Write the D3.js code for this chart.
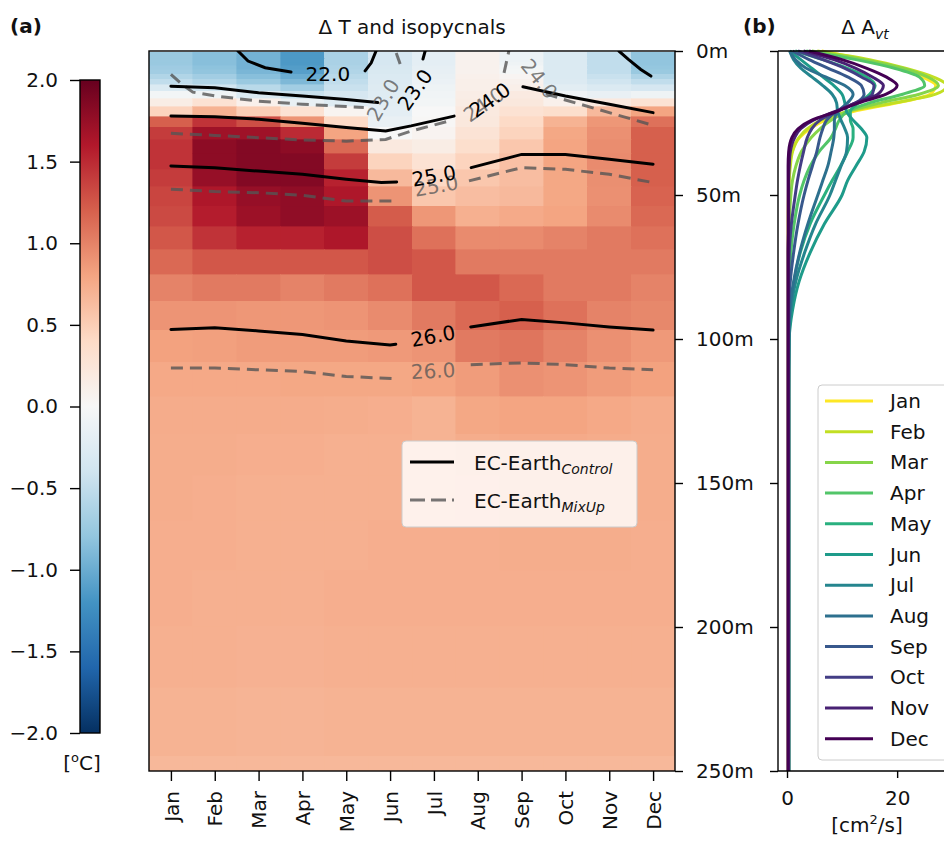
<!DOCTYPE html>
<html><head><meta charset="utf-8">
<script src="https://cdn.jsdelivr.net/npm/d3@7"></script>
<style>body{margin:0;background:#fff;} svg{display:block;font-family:"DejaVu Sans",sans-serif;}</style>
</head><body><svg id="c" width="944" height="848"></svg>
<script>
// ---------------- DATA ----------------
const months = ["Jan","Feb","Mar","Apr","May","Jun","Jul","Aug","Sep","Oct","Nov","Dec"];
const depthTicks = [0,50,100,150,200,250];
const cbarTicks = [-2,-1.5,-1,-0.5,0,0.5,1,1.5,2];
const avtTicks = [0,20];
// model level edges (m)
const depthEdges = [0.5,1.56,2.67,3.86,5.14,6.54,8.09,9.82,11.77,13.99,16.53,19.43,22.76,26.56,30.87,35.74,41.18,47.21,53.85,61.11,69.02,77.61,86.93,97.04,108.03,120.0,133.08,147.41,163.16,180.55,199.79,221.14,244.89,271.36];
// Delta T per level (rows) and month (columns Jan..Dec)
const deltaT = [
 [-0.75,-0.85,-0.95,-1.15,-0.65,-0.35,-0.2,0.08,-0.12,-0.3,-0.5,-0.8],
 [-0.75,-0.85,-0.95,-1.15,-0.65,-0.35,-0.2,0.08,-0.12,-0.3,-0.5,-0.8],
 [-0.75,-0.85,-0.95,-1.15,-0.65,-0.35,-0.2,0.08,-0.12,-0.3,-0.5,-0.8],
 [-0.75,-0.85,-0.95,-1.15,-0.65,-0.35,-0.2,0.08,-0.1,-0.3,-0.5,-0.8],
 [-0.72,-0.82,-0.95,-1.12,-0.62,-0.33,-0.18,0.08,-0.05,-0.3,-0.5,-0.78],
 [-0.7,-0.8,-0.92,-1.1,-0.6,-0.32,-0.17,0.08,-0.03,-0.3,-0.5,-0.75],
 [-0.6,-0.7,-0.85,-1.0,-0.55,-0.3,-0.15,0.1,0.04,-0.3,-0.45,-0.62],
 [-0.5,-0.6,-0.75,-0.9,-0.5,-0.28,-0.13,0.12,0.08,-0.28,-0.4,-0.5],
 [-0.3,-0.4,-0.55,-0.7,-0.45,-0.26,-0.1,0.12,0.12,-0.22,-0.3,-0.35],
 [-0.05,-0.1,-0.3,-0.45,-0.35,-0.25,-0.07,0.14,0.18,-0.08,-0.15,-0.1],
 [0.15,0.3,0.1,-0.15,-0.25,-0.22,-0.05,0.16,0.22,0.1,0.2,0.3],
 [0.45,0.7,0.5,0.3,0.05,-0.2,0.0,0.2,0.3,0.35,0.65,0.8],
 [1.2,1.45,1.3,0.9,0.4,-0.15,0.02,0.22,0.4,0.7,0.88,1.1],
 [1.4,1.7,1.7,1.5,0.8,0.0,0.06,0.28,0.45,0.78,0.92,1.2],
 [1.45,1.8,1.85,1.8,1.15,0.2,0.15,0.35,0.55,0.8,0.94,1.2],
 [1.45,1.8,1.85,1.85,1.4,0.45,0.3,0.45,0.6,0.8,0.95,1.2],
 [1.4,1.75,1.85,1.85,1.55,0.65,0.42,0.55,0.62,0.78,0.93,1.2],
 [1.35,1.62,1.75,1.78,1.62,0.9,0.55,0.62,0.65,0.78,0.92,1.18],
 [1.32,1.58,1.72,1.78,1.72,1.22,0.88,0.72,0.76,0.8,0.95,1.15],
 [1.25,1.45,1.55,1.55,1.62,1.3,1.1,0.95,0.95,1.0,1.05,1.1],
 [1.15,1.25,1.25,1.25,1.25,1.3,1.25,1.05,1.05,1.05,1.05,1.05],
 [1.0,1.05,1.05,1.0,1.05,1.1,1.25,1.25,1.15,1.05,1.05,1.0],
 [0.9,0.9,0.88,0.88,0.9,0.95,1.05,1.15,1.2,1.1,1.0,0.97],
 [0.82,0.83,0.85,0.85,0.85,0.87,0.9,1.05,1.08,1.0,0.92,0.87],
 [0.77,0.77,0.77,0.78,0.78,0.78,0.8,0.85,0.92,0.9,0.85,0.82],
 [0.75,0.75,0.75,0.75,0.74,0.73,0.7,0.78,0.8,0.8,0.77,0.75],
 [0.74,0.74,0.73,0.73,0.72,0.72,0.7,0.74,0.76,0.76,0.75,0.74],
 [0.74,0.73,0.72,0.72,0.72,0.72,0.72,0.73,0.74,0.75,0.74,0.74],
 [0.73,0.73,0.72,0.72,0.72,0.73,0.73,0.73,0.74,0.74,0.74,0.73],
 [0.73,0.72,0.72,0.72,0.73,0.73,0.73,0.73,0.73,0.73,0.73,0.73],
 [0.72,0.72,0.71,0.71,0.72,0.72,0.72,0.72,0.72,0.72,0.72,0.72],
 [0.7,0.7,0.69,0.69,0.7,0.7,0.7,0.7,0.7,0.7,0.7,0.7],
 [0.66,0.66,0.66,0.66,0.66,0.66,0.66,0.66,0.66,0.66,0.66,0.66]
];
// isopycnal contour pieces: [month position, depth m]
const controlLines = [
 [[1,96.7],[2,96.1],[3,97.2],[4,98.4],[5,100.7],[6,102.1],[6.13,101.8]],
 [[7.84,95.8],[9,93.2],[10,94.4],[11,95.8],[12,96.9]],
 [[1,39.9],[2,40.5],[3,41.7],[4,42.8],[5,44.5],[5.8,45.7],[6.15,45.5]],
 [[7.85,40.5],[9,35.9],[10,35.9],[11,37.6],[12,39.3]],
 [[1,22.6],[2,22.8],[3,23.7],[4,25.1],[5,26.6],[5.9,27.8],[6.48,26.0],[7.46,22.6]],
 [[9.03,12.4],[10,15.6],[11,18.5],[12,21.4]],
 [[1,12.2],[2,12.8],[3,14.5],[4,15.6],[5,16.8],[5.72,17.9]],
 [[6.75,2.8],[6.8,0]],
 [[2.53,0],[2.76,3.5],[3.15,5.8],[3.74,7.3]],
 [[5.43,6.9],[5.57,4.1],[5.68,0]],
 [[11.22,0],[11.43,2.8],[11.72,6.4],[11.95,8.7]]
];
const mixupLines = [
 [[1,110.1],[2,110.1],[3,110.7],[4,111.3],[5,113.0],[6.13,113.8]],
 [[7.84,108.9],[9,108.3],[10,108.9],[11,110.1],[12,110.7]],
 [[1,48.0],[2,48.8],[3,49.2],[4,50.1],[5,52.1],[6.1,52.1]],
 [[7.8,45.1],[9,40.5],[10,41.1],[11,42.8],[12,45.7]],
 [[1,28.6],[2,29.3],[3,30.1],[4,30.9],[5,31.3],[5.9,30.7],[6.48,27.8],[7.35,24.3]],
 [[9.55,14.9],[10,17.0],[11,21.4],[12,25.8]],
 [[8.6,7.6],[8.71,0]],
 [[1,8.1],[1.25,11.5],[1.5,14.3],[2,15.6],[3,17.4],[4,18.5],[5,19.3],[5.4,19.6]],
 [[6.23,4.5],[6.14,0.7]]
];
const controlLabels = [
 {t:"22.0",m:4.58,d:8.0,r:0},{t:"23.0",m:6.57,d:13.5,r:-55},{t:"24.0",m:8.28,d:17.0,r:-35},
 {t:"25.0",m:7.0,d:43.4,r:-10},{t:"26.0",m:6.98,d:99,r:-10}
];
const mixupLabels = [
 {t:"23.0",m:5.84,d:17.0,r:-60},{t:"24.0",m:8.14,d:18.6,r:-35},{t:"24.0",m:9.4,d:9.7,r:51},
 {t:"25.0",m:7.05,d:46.9,r:-10},{t:"26.0",m:6.98,d:111.1,r:-3}
];
// panel (b): Delta A_vt profiles (cm2/s)
const profDepth = [0,3,6,9,12,15,18,21,24,27,30,35,40,45,50,60,70,80,90,100,120,250];
const avtJan=[6.3,14,20,24.5,27,26,20,12,7,4.2,2.3,0.9,0.5,0.3,0.25,0.2,0.2,0.2,0.2,0.2,0.2,0.2];
const avtFeb=[5.5,15,21.5,26.5,29,27,19.5,11,6.2,3.7,2.2,1.0,0.6,0.4,0.3,0.3,0.3,0.3,0.3,0.3,0.3,0.3];
const avtMar=[4.5,14,21,25.5,27.5,24,17,11,8,6,4.4,2.6,1.6,1.0,0.7,0.4,0.3,0.3,0.3,0.3,0.3,0.3];
const avtApr=[3.5,12.5,19.5,24,25,21,15,11,9.5,8.8,8,5.8,4.2,3.1,2.3,1.3,0.7,0.4,0.3,0.3,0.3,0.3];
const avtMay=[1.5,6.5,11,14.5,16,15,13,11.5,11.5,12,12,11,9.7,8.2,6.8,4.2,2.4,1.3,0.7,0.4,0.3,0.3];
const avtJun=[0.5,2.5,4.5,6.5,8.5,10,10.5,10.8,12,13.5,14.5,14,12.5,11,10,6.8,4.2,2.2,1.0,0.4,0.3,0.3];
const avtJul=[0.5,1.2,2.5,4.5,6.5,8.2,9,9.2,9.8,10.5,11,10.8,9.8,8.8,7.8,5.2,3.2,1.6,0.7,0.3,0.3,0.3];
const avtAug=[0.5,1.5,3.5,7,10.5,12,11,9.2,8.6,8.6,8.5,8,7.4,6.5,5.6,3.8,2.3,1.2,0.5,0.3,0.3,0.3];
const avtSep=[1,4,7.5,11,13.5,14,12.5,9,7.2,6.5,6,5.4,4.6,3.8,3.1,2,1.2,0.6,0.3,0.3,0.3,0.3];
const avtOct=[2,6.5,10.5,13.5,15.8,15.5,12.5,9,6,4.5,3.7,3,2.4,1.9,1.5,0.8,0.4,0.3,0.3,0.3,0.3,0.3];
const avtNov=[3,8.5,12.5,15.5,17.5,16.5,12.5,8.8,4.8,2.5,1.4,0.6,0.4,0.3,0.3,0.3,0.2,0.2,0.2,0.2,0.2,0.2];
const avtDec=[4,10,14.5,18,20,18,13,9,4.5,2,0.9,0.3,0.2,0.2,0.2,0.2,0.2,0.2,0.2,0.2,0.2,0.2];
const avtProfiles = [avtJan,avtFeb,avtMar,avtApr,avtMay,avtJun,avtJul,avtAug,avtSep,avtOct,avtNov,avtDec];

// ---------------- DRAW ----------------
const FS = 20, TXT = "#111";
const svg = d3.select("#c");
const rdbu = ["#053061","#2166ac","#4393c3","#92c5de","#d1e5f0","#f7f7f7","#fddbc7","#f4a582","#d6604d","#b2182b","#67001f"];
const cdom = d3.range(11).map(i => -2 + 0.4*i);
const color = d3.scaleLinear().domain(cdom).range(rdbu).interpolate(d3.interpolateRgb).clamp(true);

const x = d3.scaleLinear().domain([0.5,12.5]).range([149,675]);
const y = d3.scaleLinear().domain([0,250]).range([51,771]);

const defs = svg.append("defs");
defs.append("clipPath").attr("id","clipA").append("rect")
  .attr("x",x(0.5)).attr("y",y(0)).attr("width",x(12.5)-x(0.5)).attr("height",y(250)-y(0));

// heatmap
const gH = svg.append("g").attr("clip-path","url(#clipA)").attr("shape-rendering","crispEdges");
deltaT.forEach((row,k) => row.forEach((v,j) => {
  gH.append("rect")
    .attr("x", x(j+0.5)).attr("width", x(j+1.5)-x(j+0.5))
    .attr("y", y(depthEdges[k])).attr("height", y(depthEdges[k+1])-y(depthEdges[k]))
    .attr("fill", color(v)).attr("stroke", color(v)).attr("stroke-width",0.6);
}));

// contours
const line = d3.line().x(p => x(p[0])).y(p => y(p[1]));
const gC = svg.append("g").attr("clip-path","url(#clipA)");
mixupLines.forEach(s => gC.append("path").attr("d", line(s)).attr("fill","none")
  .attr("stroke","#555").attr("stroke-opacity",0.8).attr("stroke-width",3).attr("stroke-dasharray","12,7"));
controlLines.forEach(s => gC.append("path").attr("d", line(s)).attr("fill","none")
  .attr("stroke","#000").attr("stroke-width",3).attr("stroke-linecap","round"));
mixupLabels.forEach(l => gC.append("text").attr("transform",`translate(${x(l.m)},${y(l.d)}) rotate(${l.r})`)
  .attr("text-anchor","middle").attr("dominant-baseline","central").attr("font-size",FS)
  .attr("fill","#555").attr("fill-opacity",0.75).text(l.t));
controlLabels.forEach(l => gC.append("text").attr("transform",`translate(${x(l.m)},${y(l.d)}) rotate(${l.r})`)
  .attr("text-anchor","middle").attr("dominant-baseline","central").attr("font-size",FS)
  .attr("fill","#000").text(l.t));

// frame
svg.append("rect").attr("x",x(0.5)).attr("y",y(0)).attr("width",x(12.5)-x(0.5)).attr("height",y(250)-y(0))
  .attr("fill","none").attr("stroke","#000").attr("stroke-width",1.4);

function styleAxis(g){
  g.select(".domain").remove();
  g.selectAll("line").attr("stroke","#000").attr("stroke-width",1.4);
  g.selectAll("text").attr("font-size",FS).attr("fill",TXT).attr("font-family","DejaVu Sans");
}
// right depth axis of (a)
svg.append("g").attr("transform",`translate(${x(12.5)},0)`)
  .call(d3.axisRight(y).tickValues(depthTicks).tickFormat(d => d+"m").tickSize(8).tickPadding(13))
  .call(styleAxis);
// month axis
const gm = svg.append("g").attr("transform",`translate(0,${y(250)})`)
  .call(d3.axisBottom(x).tickValues(d3.range(1,13)).tickFormat(i => months[i-1]).tickSize(10).tickPadding(12))
  .call(styleAxis);
gm.selectAll("text").attr("transform","rotate(-90)").attr("text-anchor","end")
  .attr("x",-20).attr("y",0).attr("dy","0.36em");

// legend (a)
const la = svg.append("g");
la.append("rect").attr("x",402).attr("y",441).attr("width",235).attr("height",86).attr("rx",4)
  .attr("fill","#fff").attr("fill-opacity",0.82).attr("stroke","#ccc").attr("stroke-width",1);
[["Control",false],["MixUp",true]].forEach((it,i) => {
  const yy = 462 + i*38;
  la.append("line").attr("x1",410).attr("x2",454).attr("y1",yy).attr("y2",yy)
    .attr("stroke", it[1] ? "#555" : "#000").attr("stroke-opacity", it[1]?0.8:1).attr("stroke-width",3)
    .attr("stroke-dasharray", it[1] ? "15,6" : null);
  const t = la.append("text").attr("x",474).attr("y",yy+8).attr("font-size",FS).attr("fill",TXT).text("EC-Earth");
  t.append("tspan").attr("dy",4).attr("font-size",14).attr("font-style","italic").text(it[0]);
});

// colorbar
const cy = d3.scaleLinear().domain([-2,2]).range([733,80]);
const grad = defs.append("linearGradient").attr("id","cbg").attr("x1",0).attr("x2",0).attr("y1",1).attr("y2",0);
cdom.forEach((v,i) => grad.append("stop").attr("offset",(v+2)/4).attr("stop-color",rdbu[i]));
svg.append("rect").attr("x",80).attr("y",cy(2)).attr("width",20).attr("height",cy(-2)-cy(2))
  .attr("fill","url(#cbg)").attr("stroke","#000").attr("stroke-width",1.4);
svg.append("g").attr("transform","translate(80,0)")
  .call(d3.axisLeft(cy).tickValues(cbarTicks).tickFormat(d3.format(".1f")).tickSize(10).tickPadding(12))
  .call(styleAxis);
const cu = svg.append("text").attr("x",82).attr("y",770).attr("text-anchor","middle").attr("font-size",FS).attr("fill",TXT);
cu.append("tspan").text("[");
cu.append("tspan").attr("dy",-8).attr("font-size",13).text("o");
cu.append("tspan").attr("dy",8).text("C]");

// titles
svg.append("text").attr("x",10).attr("y",33).attr("font-size",FS).attr("font-weight","bold").attr("fill",TXT).text("(a)");
svg.append("text").attr("x",743).attr("y",33).attr("font-size",FS).attr("font-weight","bold").attr("fill",TXT).text("(b)");
svg.append("text").attr("x",(x(0.5)+x(12.5))/2).attr("y",34).attr("text-anchor","middle").attr("font-size",FS).attr("fill",TXT).text("Δ T and isopycnals");
const tb = svg.append("text").attr("x",865).attr("y",34).attr("text-anchor","middle").attr("font-size",FS).attr("fill",TXT);
tb.append("tspan").text("Δ A");
tb.append("tspan").attr("dy",5).attr("font-size",14).attr("font-style","italic").text("vt");

// ---------------- panel (b) ----------------
const xb = d3.scaleLinear().domain([-1.636, 29.6]).range([778, 950]);
defs.append("clipPath").attr("id","clipB").append("rect").attr("x",778).attr("y",y(0)-2).attr("width",200).attr("height",y(250)-y(0)+2);
const lineB = d3.line().x(d => xb(d[0])).y(d => y(d[1])).curve(d3.curveMonotoneY);
const gB = svg.append("g").attr("clip-path","url(#clipB)");
avtProfiles.forEach((p,i) => {
  gB.append("path").attr("d", lineB(p.map((v,k) => [v, profDepth[k]])))
    .attr("fill","none").attr("stroke", d3.interpolateViridis(1 - i/11)).attr("stroke-width",3);
});
// spines
svg.append("line").attr("x1",778).attr("x2",778).attr("y1",y(0)).attr("y2",y(250)).attr("stroke","#000").attr("stroke-width",1.4);
svg.append("line").attr("x1",778).attr("x2",944).attr("y1",y(0)).attr("y2",y(0)).attr("stroke","#000").attr("stroke-width",1.4);
svg.append("line").attr("x1",778).attr("x2",944).attr("y1",y(250)).attr("y2",y(250)).attr("stroke","#000").attr("stroke-width",1.4);
svg.append("g").attr("transform","translate(778,0)")
  .call(d3.axisLeft(y).tickValues(depthTicks).tickFormat("").tickSize(8)).call(styleAxis);
svg.append("g").attr("transform",`translate(0,${y(250)})`)
  .call(d3.axisBottom(xb).tickValues(avtTicks).tickSize(7).tickPadding(13)).call(styleAxis);
const ub = svg.append("text").attr("x",867).attr("y",832).attr("text-anchor","middle").attr("font-size",FS).attr("fill",TXT);
ub.append("tspan").text("[cm");
ub.append("tspan").attr("dy",-8).attr("font-size",13).text("2");
ub.append("tspan").attr("dy",8).text("/s]");

// legend (b)
const lb = svg.append("g");
lb.append("rect").attr("x",818).attr("y",385).attr("width",140).attr("height",375).attr("rx",4)
  .attr("fill","#fff").attr("fill-opacity",0.85).attr("stroke","#ccc").attr("stroke-width",1);
months.forEach((mname,i) => {
  const yy = 401 + i*30.7;
  lb.append("line").attr("x1",825).attr("x2",873).attr("y1",yy).attr("y2",yy)
    .attr("stroke", d3.interpolateViridis(1 - i/11)).attr("stroke-width",3);
  lb.append("text").attr("x",890).attr("y",yy).attr("dy","0.35em").attr("font-size",FS).attr("fill",TXT).text(mname);
});
</script></body></html>
